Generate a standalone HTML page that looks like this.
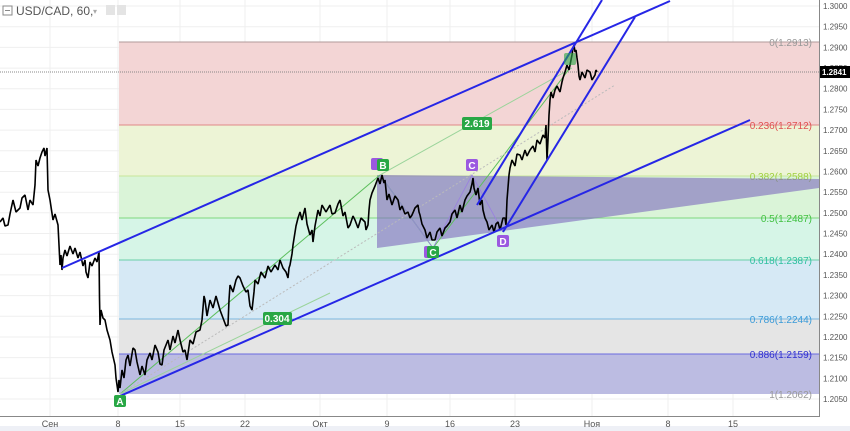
<!DOCTYPE html>
<html><head><meta charset="utf-8"><style>
html,body{margin:0;padding:0;background:#fff;width:850px;height:431px;overflow:hidden;font-family:"Liberation Sans",sans-serif}
</style></head><body>
<svg width="850" height="431" viewBox="0 0 850 431" xmlns="http://www.w3.org/2000/svg" font-family="Liberation Sans, sans-serif">
<g stroke="#efefef" stroke-width="1">
<line x1="50" y1="0" x2="50" y2="416"/><line x1="118" y1="0" x2="118" y2="416"/><line x1="180" y1="0" x2="180" y2="416"/><line x1="245" y1="0" x2="245" y2="416"/><line x1="320" y1="0" x2="320" y2="416"/><line x1="387" y1="0" x2="387" y2="416"/><line x1="450" y1="0" x2="450" y2="416"/><line x1="515" y1="0" x2="515" y2="416"/><line x1="592" y1="0" x2="592" y2="416"/><line x1="668" y1="0" x2="668" y2="416"/><line x1="733" y1="0" x2="733" y2="416"/>
<line x1="0" y1="6" x2="819" y2="6"/><line x1="0" y1="26.7" x2="819" y2="26.7"/><line x1="0" y1="47.4" x2="819" y2="47.4"/><line x1="0" y1="68.1" x2="819" y2="68.1"/><line x1="0" y1="88.7" x2="819" y2="88.7"/><line x1="0" y1="109.4" x2="819" y2="109.4"/><line x1="0" y1="130.1" x2="819" y2="130.1"/><line x1="0" y1="150.8" x2="819" y2="150.8"/><line x1="0" y1="171.5" x2="819" y2="171.5"/><line x1="0" y1="192.2" x2="819" y2="192.2"/><line x1="0" y1="212.8" x2="819" y2="212.8"/><line x1="0" y1="233.5" x2="819" y2="233.5"/><line x1="0" y1="254.2" x2="819" y2="254.2"/><line x1="0" y1="274.9" x2="819" y2="274.9"/><line x1="0" y1="295.6" x2="819" y2="295.6"/><line x1="0" y1="316.3" x2="819" y2="316.3"/><line x1="0" y1="337" x2="819" y2="337"/><line x1="0" y1="357.6" x2="819" y2="357.6"/><line x1="0" y1="378.3" x2="819" y2="378.3"/><line x1="0" y1="399" x2="819" y2="399"/>
</g>
<rect x="119" y="42" width="700" height="83" fill="#f2d3d3" fill-opacity="0.95"/>
<rect x="119" y="125" width="700" height="51" fill="#ecf3d4" fill-opacity="0.95"/>
<rect x="119" y="176" width="700" height="42" fill="#d8f3d6" fill-opacity="0.95"/>
<rect x="119" y="218" width="700" height="42" fill="#d4f4e6" fill-opacity="0.95"/>
<rect x="119" y="260" width="700" height="59" fill="#d4e8f4" fill-opacity="0.95"/>
<rect x="119" y="319" width="700" height="35" fill="#e4e4e4" fill-opacity="0.95"/>
<rect x="119" y="354" width="700" height="40" fill="#bcbce2"/>
<g stroke-width="1">
<line x1="119" y1="42" x2="819" y2="42" stroke="#b09a9a"/>
<line x1="119" y1="125" x2="819" y2="125" stroke="#e08888"/>
<line x1="119" y1="176" x2="819" y2="176" stroke="#c8e69a"/>
<line x1="119" y1="218" x2="819" y2="218" stroke="#7ed87e"/>
<line x1="119" y1="260" x2="819" y2="260" stroke="#6ad0a8"/>
<line x1="119" y1="319" x2="819" y2="319" stroke="#7ab8e0"/>
<line x1="119" y1="354" x2="819" y2="354" stroke="#6a6ae0"/>
</g>
<g font-size="10" text-anchor="end">
<text x="812" y="46" fill="#999">0(1.2913)</text>
<text x="812" y="129" fill="#e05050">0.236(1.2712)</text>
<text x="812" y="180" fill="#a0d040">0.382(1.2588)</text>
<text x="812" y="222" fill="#40c040">0.5(1.2487)</text>
<text x="812" y="264" fill="#30c0a0">0.618(1.2387)</text>
<text x="812" y="323" fill="#3a9ad8">0.786(1.2244)</text>
<text x="812" y="358" fill="#3030d0">0.886(1.2159)</text>
<text x="812" y="398" fill="#999">1(1.2062)</text>
</g>
<polygon points="377,175 819,179 819,188 377,248" fill="rgba(125,105,190,0.6)"/>
<line x1="0" y1="72" x2="819" y2="72" stroke="#888" stroke-dasharray="1,1"/>
<line x1="120" y1="394" x2="380" y2="175" stroke="#5cbf5c" stroke-width="1"/>
<line x1="120" y1="394" x2="330" y2="293" stroke="#9ad49a" stroke-width="1"/>
<line x1="380" y1="175" x2="572" y2="68" stroke="#9ad49a" stroke-width="1"/>
<line x1="380" y1="175" x2="433" y2="248" stroke="#5cbf5c" stroke-width="1"/>
<line x1="433" y1="248" x2="570" y2="68" stroke="#5cbf5c" stroke-width="1"/>
<line x1="120" y1="394" x2="615" y2="85" stroke="#bbb" stroke-dasharray="2,2"/>
<polyline points="380,175 433,248 472,175 503,232" fill="none" stroke="#9a80e0" stroke-width="0.8"/>
<polyline fill="none" stroke="#000" stroke-width="1.6" stroke-linejoin="bevel" points="0,222 3,218 5,226 8,225 10,214 13,200 16,212 20,208 22,198 25,195 28,210 30,200 33,205 35,185 36,160 38,166 40,158 42,152 44,148 45,156 47,148 48,190 50,200 53,220 55,214 58,225 59,245 60,265 61,255 62,270 63,258 65,250 67,256 70,246 73,254 75,248 78,258 80,252 83,266 85,260 86,272 88,278 90,262 92,266 95,258 97,262 99,252 99.5,298 100,325 101,310 103,318 105,320 107,330 110,340 112,352 115,365 116,378 118,392 119,380 120,388 122,370 124,378 126,360 128,355 130,366 133,348 135,350 137,362 140,375 142,366 145,375 147,360 150,353 152,360 155,345 158,352 160,364 162,365 164,350 166,345 168,340 170,350 173,336 175,343 178,330 180,340 183,352 185,350 187,360 190,340 193,344 196,332 200,330 202,320 204,296 205,300 207,316 210,300 213,308 216,296 220,310 223,318 226,326 228,325 229,300 230,285 233,292 236,280 238,276 240,278 243,286 246,292 248,290 250,306 252,310 254,292 255,280 258,284 261,272 265,278 268,266 271,272 275,265 278,270 280,260 283,268 286,272 288,278 289,268 290,265 292,254 293,245 296,226 298,218 300,212 302,220 305,208 307,224 310,235 312,230 313,242 315,226 318,210 320,216 322,205 326,212 330,205 332,214 335,213 338,204 340,200 343,216 345,212 348,228 350,225 353,216 355,220 358,228 361,218 365,222 366,230 368,225 369,210 370,200 372,193 375,186 378,178 380,184 382,175 384,183 385,180 387,200 389,194 392,205 395,196 398,200 400,210 402,206 405,214 408,212 410,218 412,215 415,208 418,205 419,212 420,215 422,224 425,230 427,238 430,232 432,240 435,240 437,232 440,228 442,236 445,228 447,226 450,222 452,214 455,210 457,218 460,205 462,212 465,200 467,196 470,192 472,184 473,178 474,188 476,195 478,188 480,205 482,200 483,210 485,218 487,222 489,230 492,225 494,232 496,224 498,222 500,230 503,218 505,218 506,225 507,200 509,175 510,168 512,160 515,166 517,154 520,155 522,160 525,150 527,156 530,150 533,146 535,152 537,140 540,144 543,135 545,138 546,125 547,160 548,140 549,115 550,100 551,92 553,98 555,90 557,86 560,92 562,82 563,78 565,72 567,65 569,70 572,55 573,48 574,45 575,52 576,50 577,58 578,65 579,76 580,80 582,72 585,78 587,70 590,72 592,80 595,75 596,70 597,72"/>
<g stroke="#2626e6" stroke-width="2">
<line x1="62" y1="268" x2="670" y2="1"/>
<line x1="120" y1="396" x2="750" y2="120"/>
<line x1="477" y1="205" x2="602" y2="0"/>
<line x1="503" y1="232" x2="635" y2="17"/>
</g>
<g font-size="10" font-weight="bold" fill="#fff" text-anchor="middle">
<rect x="114" y="395" width="12" height="12" rx="2" fill="#28a745"/><text x="120" y="405">A</text>
<rect x="371" y="158" width="12" height="12" rx="2" fill="#9b59e0"/>
<rect x="377" y="159" width="12" height="12" rx="2" fill="#28a745"/><text x="383" y="169">B</text>
<rect x="466" y="159" width="12" height="12" rx="2" fill="#9b59e0"/><text x="472" y="169">C</text>
<rect x="424" y="246" width="12" height="12" rx="2" fill="#9b59e0"/>
<rect x="427" y="246" width="12" height="12" rx="2" fill="#28a745"/><text x="433" y="256">C</text>
<rect x="497" y="235" width="12" height="12" rx="2" fill="#9b59e0"/><text x="503" y="245">D</text>
<rect x="564" y="53" width="12" height="12" rx="2" fill="#28a745" fill-opacity="0.6"/>
<rect x="462" y="117" width="30" height="13" rx="2" fill="#28a745"/><text x="477" y="127">2.619</text>
<rect x="263" y="312" width="29" height="13" rx="2" fill="#28a745"/><text x="277" y="322">0.304</text>
</g>
<line x1="819.5" y1="0" x2="819.5" y2="417" stroke="#888"/>
<line x1="0" y1="416.5" x2="819" y2="416.5" stroke="#888"/>
<rect x="0" y="426" width="850" height="5" fill="#eef0f6"/>
<g font-size="8" fill="#555">
<text x="823" y="9">1.3000</text><text x="823" y="29.7">1.2950</text><text x="823" y="50.4">1.2900</text><text x="823" y="71.1">1.2850</text><text x="823" y="91.7">1.2800</text><text x="823" y="112.4">1.2750</text><text x="823" y="133.1">1.2700</text><text x="823" y="153.8">1.2650</text><text x="823" y="174.5">1.2600</text><text x="823" y="195.2">1.2550</text><text x="823" y="215.8">1.2500</text><text x="823" y="236.5">1.2450</text><text x="823" y="257.2">1.2400</text><text x="823" y="277.9">1.2350</text><text x="823" y="298.6">1.2300</text><text x="823" y="319.3">1.2250</text><text x="823" y="340">1.2200</text><text x="823" y="360.6">1.2150</text><text x="823" y="381.3">1.2100</text><text x="823" y="402">1.2050</text>
</g>
<rect x="820" y="66" width="30" height="12" fill="#000"/>
<text x="822" y="75" font-size="8" fill="#fff" font-weight="bold">1.2841</text>
<g font-size="9" fill="#555" text-anchor="middle">
<text x="50" y="427">Сен</text><text x="118" y="427">8</text><text x="180" y="427">15</text><text x="245" y="427">22</text><text x="320" y="427">Окт</text><text x="387" y="427">9</text><text x="450" y="427">16</text><text x="515" y="427">23</text><text x="592" y="427">Ноя</text><text x="668" y="427">8</text><text x="733" y="427">15</text>
</g>
<rect x="3" y="6" width="9" height="9" fill="none" stroke="#888"/><line x1="5" y1="10.5" x2="10" y2="10.5" stroke="#888"/>
<text x="16" y="15" font-size="12" fill="#555">USD/CAD, 60,</text>
<text x="93" y="14" font-size="8" fill="#aaa">▾</text>
<rect x="106" y="5" width="9" height="10" fill="#e4e4e4"/><rect x="117" y="5" width="9" height="10" fill="#e4e4e4"/>
</svg>
</body></html>
